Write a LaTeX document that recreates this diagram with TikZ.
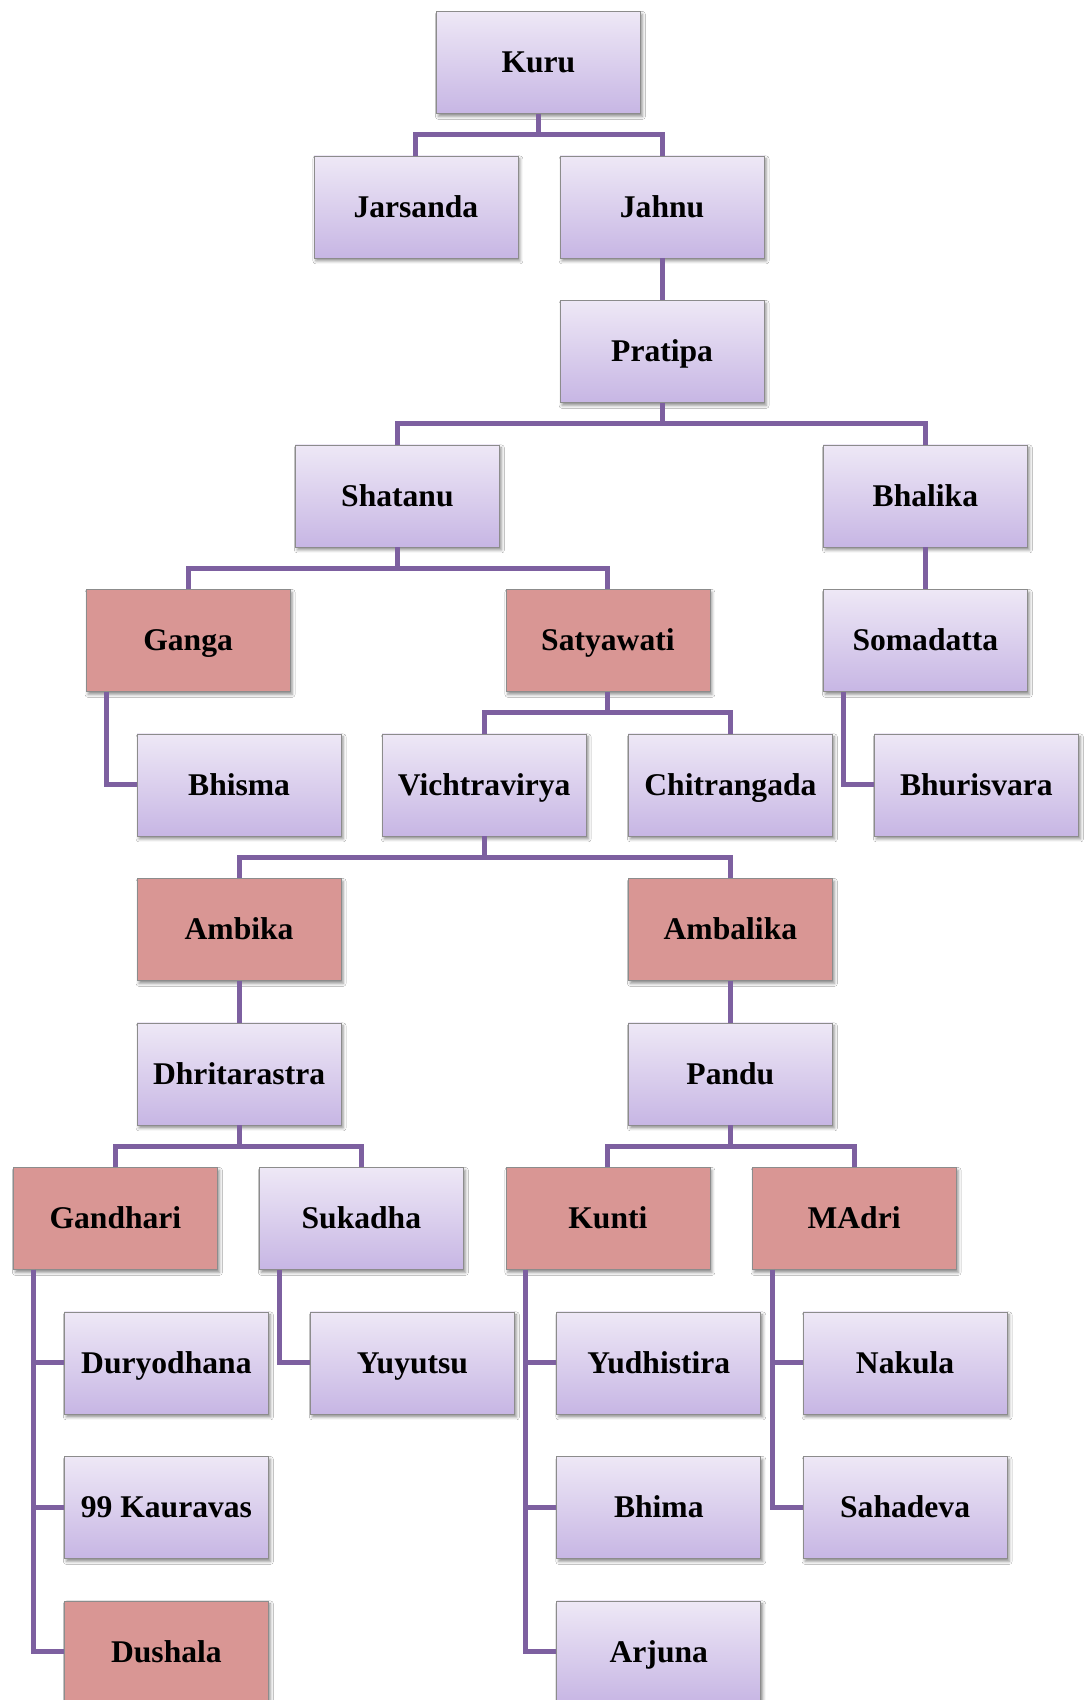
\documentclass[tikz,border=0pt]{standalone}
\usepackage{fontspec}
\setmainfont{Liberation Serif}
\usetikzlibrary{calc,shadows.blur}
\definecolor{conncol}{RGB}{125,96,160}
\definecolor{ptop}{RGB}{238,232,246}
\definecolor{pbot}{RGB}{199,182,228}
\definecolor{redfill}{RGB}{217,150,148}
\definecolor{bordercol}{RGB}{140,140,140}
\tikzset{
 box/.style={draw=bordercol, line width=0.8pt, minimum width=204pt, minimum height=102pt, inner sep=0pt, anchor=north west,
   font=\fontsize{31.6}{38}\selectfont\bfseries, text height=24pt, text depth=3pt,
   blur shadow={shadow xshift=2pt, shadow yshift=-3pt, shadow blur radius=3pt, shadow opacity=45}},
 pbox/.style={box, top color=ptop, bottom color=pbot},
 rbox/.style={box, fill=redfill},
 conn/.style={draw=conncol, line width=5pt, line join=miter},
}
\newcommand\famtwo[3]{%
  \coordinate (m#1) at ($(#1.south)!.5!(#2.north)$);
  \draw[conn] (#2.north) |- (m#1) -| (#3.north);
  \draw[conn] (#1.south) -- (#1.south |- m#1);
}
\newcommand\elbow[2]{%
  \draw[conn] ([xshift=20.4pt]#1.south west) |- (#2.west);
}
\begin{document}
\begin{tikzpicture}[x=1pt,y=-1pt]
\clip (0,0) rectangle (1089,1700);
\fill[white] (0,0) rectangle (1089,1700);
% rows
\node[pbox] (kuru) at (436,11) {Kuru};
\node[pbox] (jarsanda) at (313.5,155.5) {Jarsanda};
\node[pbox] (jahnu) at (559.7,155.5) {Jahnu};
\node[pbox] (pratipa) at (559.7,300) {Pratipa};
\node[pbox] (shatanu) at (295,444.5) {Shatanu};
\node[pbox] (bhalika) at (823,444.5) {Bhalika};
\node[rbox] (ganga) at (85.7,589) {Ganga};
\node[rbox] (satyawati) at (505.5,589) {Satyawati};
\node[pbox] (somadatta) at (823,589) {Somadatta};
\node[pbox] (bhisma) at (136.7,733.5) {Bhisma};
\node[pbox] (vich) at (381.8,733.5) {Vichtravirya};
\node[pbox] (chitra) at (628,733.5) {Chitrangada};
\node[pbox] (bhuri) at (874,733.5) {Bhurisvara};
\node[rbox] (ambika) at (136.7,878) {Ambika};
\node[rbox] (ambalika) at (628,878) {Ambalika};
\node[pbox] (dhrita) at (136.7,1022.5) {Dhritarastra};
\node[pbox] (pandu) at (628,1022.5) {Pandu};
\node[rbox] (gandhari) at (13,1167) {Gandhari};
\node[pbox] (sukadha) at (259,1167) {Sukadha};
\node[rbox] (kunti) at (505.5,1167) {Kunti};
\node[rbox] (madri) at (751.7,1167) {MAdri};
\node[pbox] (duryo) at (64,1311.5) {Duryodhana};
\node[pbox] (yuyutsu) at (310,1311.5) {Yuyutsu};
\node[pbox] (yudhi) at (556.4,1311.5) {Yudhistira};
\node[pbox] (nakula) at (802.7,1311.5) {Nakula};
\node[pbox] (kaurava) at (64,1456) {99 Kauravas};
\node[pbox] (bhima) at (556.4,1456) {Bhima};
\node[pbox] (sahadeva) at (802.7,1456) {Sahadeva};
\node[rbox] (dushala) at (64,1600.5) {Dushala};
\node[pbox] (arjuna) at (556.4,1600.5) {Arjuna};
% connectors
\famtwo{kuru}{jarsanda}{jahnu}
\draw[conn] (jahnu.south) -- (pratipa.north);
\famtwo{pratipa}{shatanu}{bhalika}
\famtwo{shatanu}{ganga}{satyawati}
\draw[conn] (bhalika.south) -- (somadatta.north);
\elbow{ganga}{bhisma}
\famtwo{satyawati}{vich}{chitra}
\elbow{somadatta}{bhuri}
\famtwo{vich}{ambika}{ambalika}
\draw[conn] (ambika.south) -- (dhrita.north);
\draw[conn] (ambalika.south) -- (pandu.north);
\famtwo{dhrita}{gandhari}{sukadha}
\famtwo{pandu}{kunti}{madri}
\elbow{gandhari}{duryo}
\elbow{gandhari}{kaurava}
\elbow{gandhari}{dushala}
\elbow{sukadha}{yuyutsu}
\elbow{kunti}{yudhi}
\elbow{kunti}{bhima}
\elbow{kunti}{arjuna}
\elbow{madri}{nakula}
\elbow{madri}{sahadeva}
\end{tikzpicture}
\end{document}
